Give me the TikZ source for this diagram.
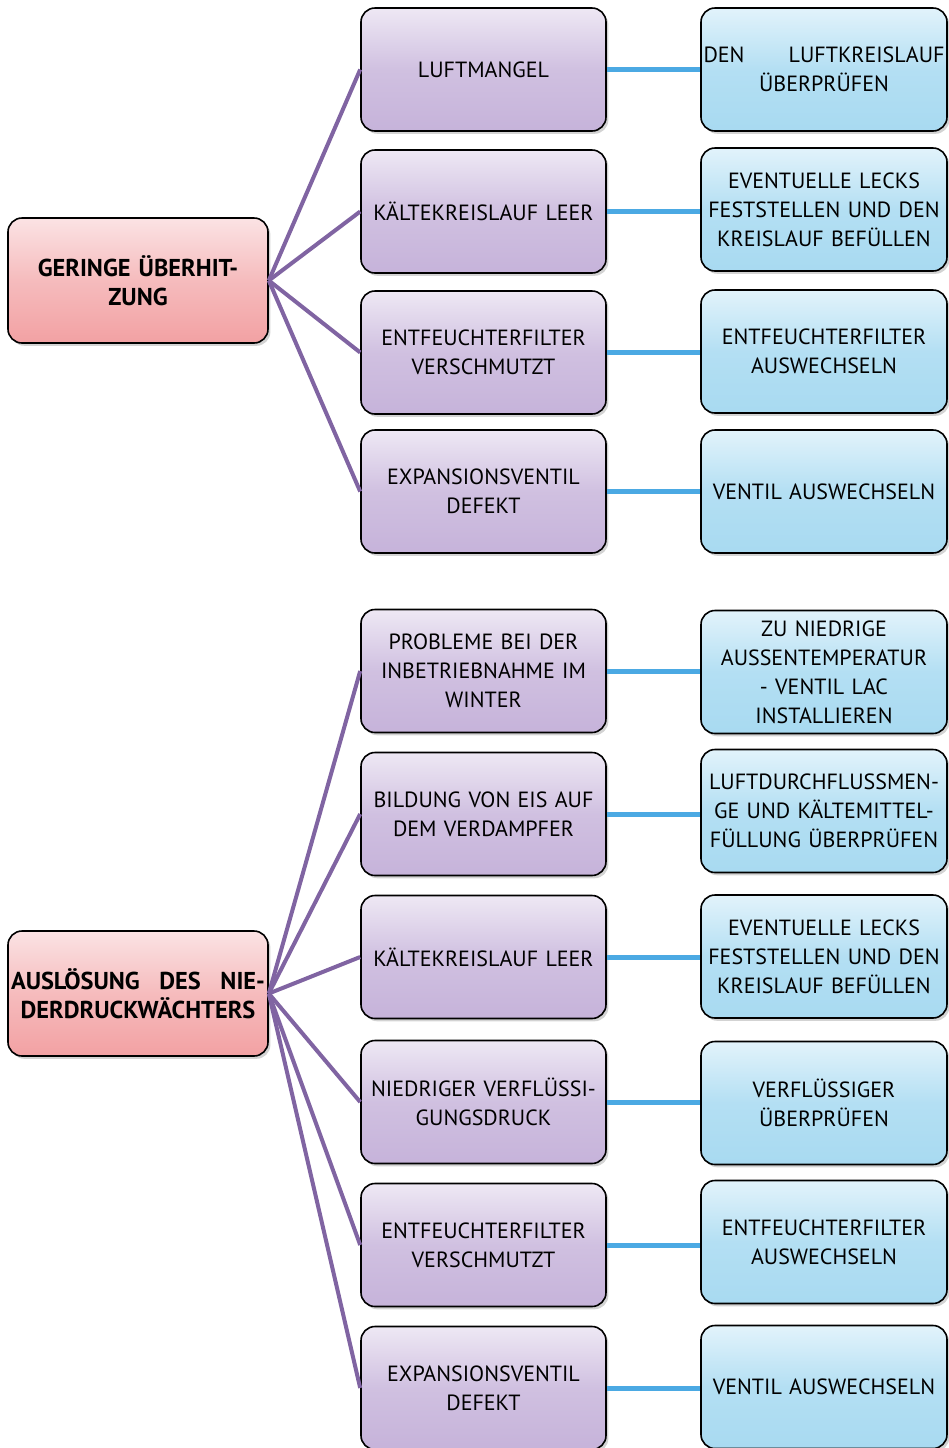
\documentclass[tikz,border=0pt]{standalone}
\usepackage{fontspec}
\setmainfont{PT Sans}
\usetikzlibrary{shadows}
\definecolor{rootT}{HTML}{FBE3E4}
\definecolor{rootB}{HTML}{F2A1A3}
\definecolor{midT}{HTML}{EEE8F4}
\definecolor{midB}{HTML}{C6B3DA}
\definecolor{actT}{HTML}{E2F3FB}
\definecolor{actB}{HTML}{A8DAF1}
\definecolor{purpleline}{HTML}{8064A2}
\definecolor{blueline}{HTML}{4BA9E3}
\tikzset{
  box/.style={draw=black, line width=0.8pt, rounded corners=7pt, align=center,
    inner sep=1pt, font=\fontsize{11}{14.5}\selectfont,
    drop shadow={shadow xshift=1.2pt, shadow yshift=-1.4pt, opacity=0.35}},
  rootbox/.style={box, top color=rootT, bottom color=rootB, middle color=rootB!60!rootT,
    minimum width=130pt, minimum height=62.5pt, text width=127pt,
    font=\fontsize{12.2}{14.5}\selectfont\bfseries},
  causebox/.style={box, top color=midT, bottom color=midB, middle color=midB!75!midT,
    minimum width=122.5pt, minimum height=61.5pt, text width=119pt},
  fixbox/.style={box, top color=actT, bottom color=actB, middle color=actB!80!actT,
    minimum width=123pt, minimum height=61.5pt, text width=120.5pt},
  branch/.style={draw=purpleline, line width=2pt},
  link/.style={draw=blueline, line width=2.5pt},
}
\begin{document}
\begin{tikzpicture}[x=0.5pt, y=-0.5pt]
\useasboundingbox (0,0) rectangle (949,1448);
\clip (0,0) rectangle (949,1448);

% first group
\node[rootbox] (r1) at (138,280.5) {GERINGE ÜBERHIT-\\ZUNG};

\node[causebox] (a1) at (483.5,69.5) {LUFTMANGEL};
\node[causebox] (a2) at (483.5,211.5) {KÄLTEKREISLAUF LEER};
\node[causebox] (a3) at (483.5,352.5) {ENTFEUCHTERFILTER\\VERSCHMUTZT};
\node[causebox] (a4) at (483.5,491.5) {EXPANSIONSVENTIL\\DEFEKT};

\node[fixbox] (b1) at (824,69.5) {DEN\hfill LUFTKREISLAUF\\ÜBERPRÜFEN};
\node[fixbox] (b2) at (824,209.5) {EVENTUELLE LECKS\\FESTSTELLEN UND DEN\\KREISLAUF BEFÜLLEN};
\node[fixbox] (b3) at (824,351.5) {ENTFEUCHTERFILTER\\AUSWECHSELN};
\node[fixbox] (b4) at (824,491.5) {VENTIL AUSWECHSELN};

% second group
\node[rootbox] (r2) at (138,993.5) {AUSLÖSUNG\hfill DES\hfill NIE-\\DERDRUCKWÄCHTERS};

\node[causebox] (c1) at (483.5,671) {PROBLEME BEI DER\\INBETRIEBNAHME IM\\WINTER};
\node[causebox] (c2) at (483.5,814) {BILDUNG VON EIS AUF\\DEM VERDAMPFER};
\node[causebox] (c3) at (483.5,957) {KÄLTEKREISLAUF LEER};
\node[causebox] (c4) at (483.5,1102) {NIEDRIGER VERFLÜSSI-\\GUNGSDRUCK};
\node[causebox] (c5) at (483.5,1245) {ENTFEUCHTERFILTER\\VERSCHMUTZT};
\node[causebox] (c6) at (483.5,1388) {EXPANSIONSVENTIL\\DEFEKT};

\node[fixbox] (d1) at (824,672) {ZU NIEDRIGE\\AUSSENTEMPERATUR\\- VENTIL LAC\\INSTALLIEREN};
\node[fixbox] (d2) at (824,811) {LUFTDURCHFLUSSMEN-\\GE UND KÄLTEMITTEL-\\FÜLLUNG ÜBERPRÜFEN};
\node[fixbox] (d3) at (824,956.5) {EVENTUELLE LECKS\\FESTSTELLEN UND DEN\\KREISLAUF BEFÜLLEN};
\node[fixbox] (d4) at (824,1103) {VERFLÜSSIGER\\ÜBERPRÜFEN};
\node[fixbox] (d5) at (824,1242) {ENTFEUCHTERFILTER\\AUSWECHSELN};
\node[fixbox] (d6) at (824,1387) {VENTIL AUSWECHSELN};

% connectors
\foreach \m in {a1,a2,a3,a4} \draw[branch] (r1.east) -- (\m.west);
\foreach \m in {c1,c2,c3,c4,c5,c6} \draw[branch] (r2.east) -- (\m.west);
\foreach \m/\f in {a1/b1,a2/b2,a3/b3,a4/b4,c1/d1,c2/d2,c3/d3,c4/d4,c5/d5,c6/d6}
  \draw[link] (\m.east) -- (\m.east -| \f.west);
\end{tikzpicture}
\end{document}
